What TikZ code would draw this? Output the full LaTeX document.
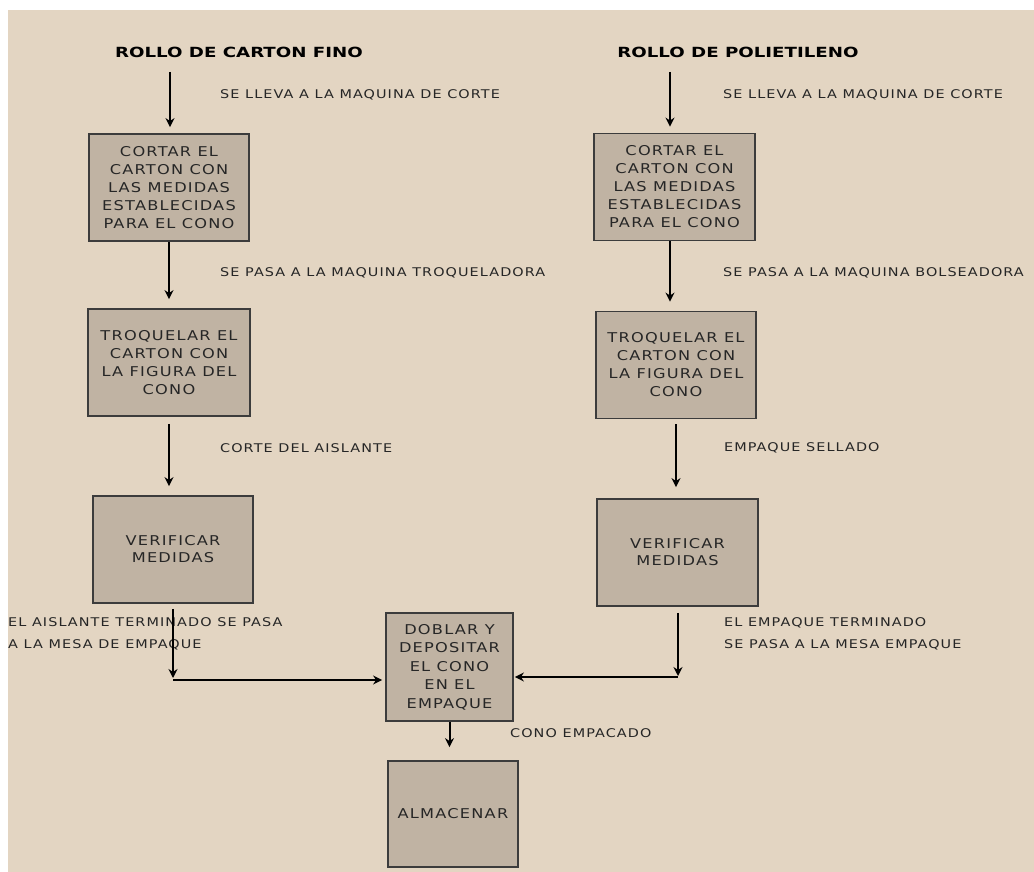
\documentclass[tikz,border=0pt]{standalone}
\usepackage{fontspec}
\usetikzlibrary{arrows.meta}
\setmainfont{DejaVu Sans}[FakeStretch=1.2,LetterSpace=9]
\newfontfamily\titlefont{DejaVu Sans}[FakeStretch=1.3]
\definecolor{fondo}{HTML}{E3D5C2}
\definecolor{relleno}{HTML}{C0B3A3}
\definecolor{borde}{HTML}{3C3C3C}
\begin{document}
\begin{tikzpicture}[>={Stealth[length=9pt,width=9pt]},x=1pt,y=-1pt,
	caja/.style={draw=borde,fill=relleno,line width=1.8pt,align=center,inner sep=0pt,minimum width=160pt,minimum height=107pt,font=\fontsize{13.5}{18}\selectfont,text=black!85},
	etiqueta/.style={anchor=west,align=left,inner sep=0pt,font=\fontsize{12}{22}\selectfont,text=black!85},
	titulo/.style={inner sep=0pt,font=\titlefont\bfseries\fontsize{14}{16}\selectfont},
	flecha/.style={->,line width=2pt,shorten >=7pt}]
	\useasboundingbox (0,0) rectangle (1034,872);
	\fill[white] (0,0) rectangle (1034,872);
	\fill[fondo] (8,10) rectangle (1034,872); % fondo
	\node[titulo] (tituloL) at (239,52) {ROLLO DE CARTON FINO};
	\node[titulo] (tituloR) at (738,52) {ROLLO DE POLIETILENO};
	\node[caja] (L1) at (169,187.5) {CORTAR EL\\CARTON CON\\LAS MEDIDAS\\ESTABLECIDAS\\PARA EL CONO};
	\node[caja,minimum width=162pt] (L2) at (169,362.5) {TROQUELAR EL\\CARTON CON\\LA FIGURA DEL\\CONO};
	\node[caja,font=\fontsize{13.5}{17}\selectfont] (L3) at (173,549.5) {VERIFICAR\\MEDIDAS};
	\node[caja,minimum width=161pt] (R1) at (674.5,187) {CORTAR EL\\CARTON CON\\LAS MEDIDAS\\ESTABLECIDAS\\PARA EL CONO};
	\node[caja] (R2) at (676,365) {TROQUELAR EL\\CARTON CON\\LA FIGURA DEL\\CONO};
	\node[caja,minimum width=161pt,font=\fontsize{13.5}{17}\selectfont] (R3) at (677.5,552.5) {VERIFICAR\\MEDIDAS};
	\node[caja,minimum width=127pt,minimum height=108pt,font=\fontsize{13.5}{18.5}\selectfont] (M4) at (449.5,667) {DOBLAR Y\\DEPOSITAR\\EL CONO\\EN EL\\EMPAQUE};
	\node[caja,minimum width=130pt,minimum height=106pt] (M5) at (453,814) {ALMACENAR};
	% textos de las flechas
	\node[etiqueta] (eL1) at (220,95) {SE LLEVA A LA MAQUINA DE CORTE};
	\node[etiqueta] (eR1) at (723,95) {SE LLEVA A LA MAQUINA DE CORTE};
	\node[etiqueta] (eL2) at (220,273) {SE PASA A LA MAQUINA TROQUELADORA};
	\node[etiqueta] (eR2) at (723,273) {SE PASA A LA MAQUINA BOLSEADORA};
	\node[etiqueta] (eL3) at (220,448) {CORTE DEL AISLANTE};
	\node[etiqueta] (eR3) at (724,448) {EMPAQUE SELLADO};
	\node[etiqueta] (eL4) at (8,634) {EL AISLANTE TERMINADO SE PASA\\A LA MESA DE EMPAQUE};
	\node[etiqueta] (eR4) at (724,634) {EL EMPAQUE TERMINADO\\SE PASA A LA MESA EMPAQUE};
	\node[etiqueta] (eM4) at (510,733) {CONO EMPACADO};
	% flechas
	\coordinate (iL) at (170,72);
	\coordinate (iR) at (670,72);
	\coordinate (jL) at (173,680);
	\coordinate (jR) at (678,677);
	\draw[flecha,shorten >=6pt] (iL) -- (iL|-L1.north);
	\draw[flecha,shorten >=6pt] (iR) -- (iR|-R1.north);
	\draw[flecha,shorten >=9pt] (L1.south) -- (L1.south|-L2.north);
	\draw[flecha,shorten >=9pt] (R1.south-|iR) -- (iR|-R2.north);
	\draw[flecha,shorten <=7pt,shorten >=9pt] (L2.south) -- (L2.south|-L3.north);
	\draw[flecha,shorten <=5pt,shorten >=11pt] (R2.south) -- (R2.south|-R3.north);
	\draw[flecha,shorten <=5pt,shorten >=2pt] (L3.south) -- (jL); % baja al cruce
	\draw[flecha,shorten <=6pt,shorten >=1pt] (R3.south-|jR) -- (jR);
	\draw[flecha,shorten >=3pt] (jL) -- (jL-|M4.west);
	\draw[flecha,shorten >=1pt] (jR) -- (jR-|M4.east);
	\draw[flecha,shorten >=13pt] (M4.south) -- (M4.south|-M5.north);
\end{tikzpicture}
\end{document}
